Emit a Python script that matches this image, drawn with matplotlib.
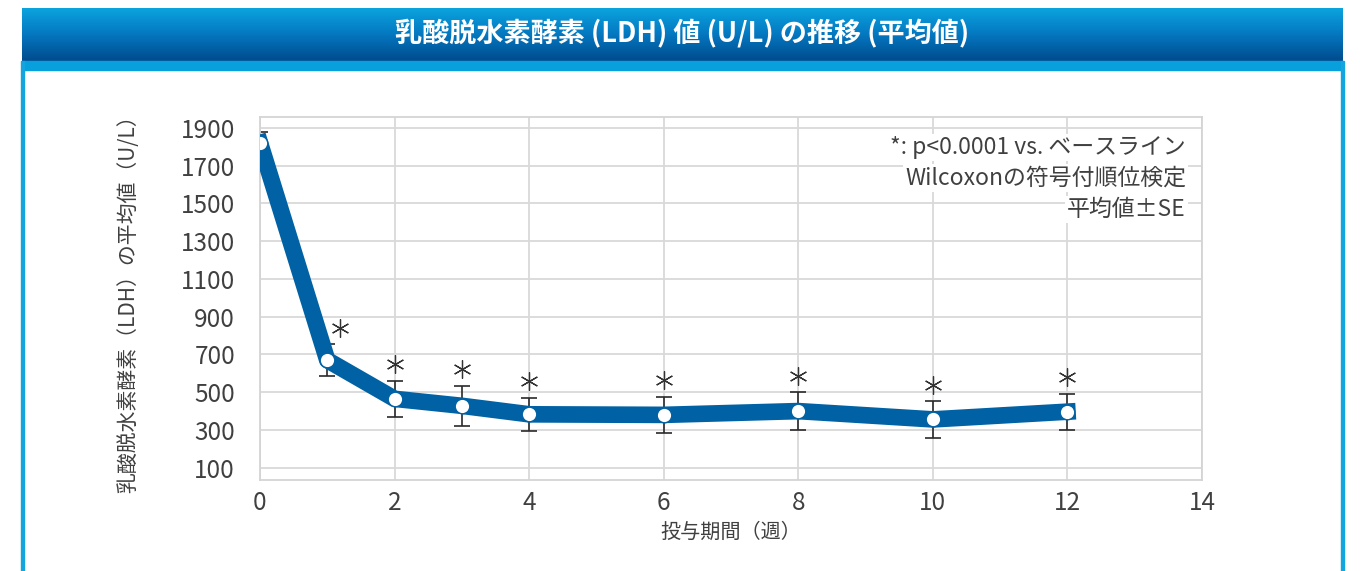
import matplotlib
matplotlib.use('Agg')
import matplotlib.pyplot as plt
import matplotlib.colors as mcolors
import matplotlib.transforms as mtransforms
from matplotlib.patches import Rectangle
import numpy as np

plt.rcParams['font.family'] = ['Noto Sans CJK JP', 'DejaVu Sans']

# ---- data ----
title = '乳酸脱水素酵素 (LDH) 値 (U/L) の推移 (平均値)'
weeks = [0, 1, 2, 3, 4, 6, 8, 10, 12]
ldh_mean = [1820, 670, 465, 428, 383, 380, 400, 356, 397]
ldh_se = [60, 83, 94, 106, 86, 95, 100, 96, 96]
significant = [False, True, True, True, True, True, True, True, True]
yticks = [100, 300, 500, 700, 900, 1100, 1300, 1500, 1700, 1900]
xticks = [0, 2, 4, 6, 8, 10, 12, 14]
xlabel = '投与期間（週）'
ylabel = '乳酸脱水素酵素（LDH）の平均値（U/L）'
notes = ['*: p<0.0001 vs. ベースライン', 'Wilcoxonの符号付順位検定', '平均値±SE']

W, H = 1360, 571
fig = plt.figure(figsize=(W / 100, H / 100), dpi=100)
fig.patch.set_facecolor('white')

def fx(px):
    return px / W

def fy(py):
    return 1 - py / H

# ---- title bar ----
tax = fig.add_axes([fx(22), fy(61), fx(1343) - fx(22), fy(8) - fy(61)])
grad = np.linspace(0, 1, 200).reshape(-1, 1)
cmap = mcolors.LinearSegmentedColormap.from_list('t', ['#0ba4df', '#0477c0', '#004b8d'])
tax.imshow(grad, aspect='auto', cmap=cmap, extent=[0, 1, 0, 1])
tax.set_axis_off()
tax.text(0.5, 0.52, title, color='white', ha='center', va='center',
         fontsize=19.5, fontweight='bold', transform=tax.transAxes)

# strip and frame borders
fig.patches.append(Rectangle((fx(22), fy(70)), fx(1343) - fx(22), fy(61) - fy(70),
                             transform=fig.transFigure, color='#08a0dc', zorder=0))
fig.patches.append(Rectangle((fx(21), 0), fx(3), fy(61), transform=fig.transFigure,
                             color='#14a5de', zorder=0))
fig.patches.append(Rectangle((fx(1341), 0), fx(3), fy(61), transform=fig.transFigure,
                             color='#14a5de', zorder=0))

# ---- main axes ----
ax = fig.add_axes([fx(260), fy(480), fx(1202) - fx(260), fy(117) - fy(480)])
ax.set_xlim(0, 14)
ax.set_ylim(35, 1958)
ax.set_xticks(xticks)
ax.set_yticks(yticks)
ax.grid(True, color='#d9d9d9', lw=1.3)
ax.set_axisbelow(True)
for s in ax.spines.values():
    s.set_color('#d4d4d4')
    s.set_linewidth(1.3)
ax.tick_params(length=0, labelsize=17.5, labelcolor='#404040')
ax.tick_params(axis='y', pad=18)
ax.tick_params(axis='x', pad=7)

blue = '#0062a4'
ax.errorbar(weeks, ldh_mean, yerr=ldh_se, fmt='none', ecolor='#2a2a2a',
            elinewidth=1.2, capsize=6, capthick=1.2, zorder=2)
ax.plot(weeks, ldh_mean, color=blue, lw=12, solid_joinstyle='round', zorder=3)
ax.plot(weeks, ldh_mean, 'o', ms=10.5, mfc='white', mec=blue, mew=1, zorder=4)

for w, m, se, sig in zip(weeks, ldh_mean, ldh_se, significant):
    if sig:
        dx = 9 if w == 1 else 0
        tr = mtransforms.offset_copy(ax.transData, fig=fig, x=dx, y=12, units='points')
        ax.plot([w], [m + se], marker=(6, 2, 0), ms=13, mew=0.9, color='#333333',
                transform=tr, zorder=5, clip_on=False)

note_y = [0.917, 0.832, 0.744]
for t, y in zip(notes, note_y):
    ax.text(0.983, y, t, transform=ax.transAxes, ha='right', va='center',
            fontsize=16.5, color='#404040', zorder=6,
            bbox=dict(facecolor='white', edgecolor='none', pad=1.5))

fig.text(fx(731), fy(532), xlabel, ha='center', va='center', fontsize=14.5, color='#404040')
fig.text(fx(128), fy(299), ylabel, ha='center', va='center', rotation=90,
         fontsize=15, color='#404040')

fig.savefig('out.png', dpi=100, facecolor='white')
